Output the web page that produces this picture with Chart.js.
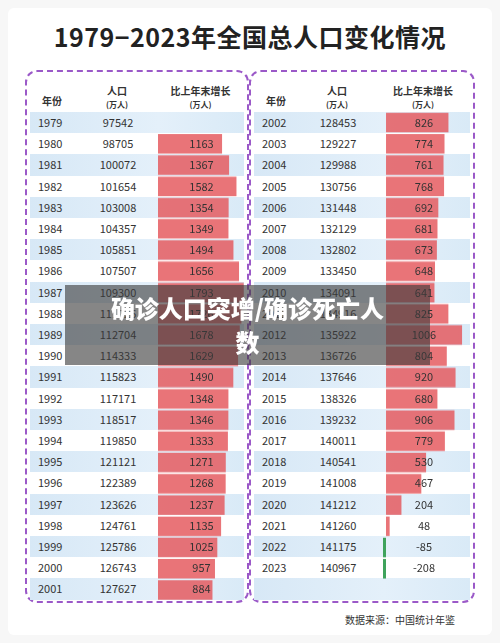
<!DOCTYPE html>
<html><head><meta charset="utf-8">
<script src="https://cdn.jsdelivr.net/npm/chart.js@4"></script>
<style>
body{margin:0;width:500px;height:643px;background:#f7f7f7;font-family:"Noto Sans CJK SC","Noto Sans",sans-serif;position:relative;overflow:hidden}
#frame{position:absolute;left:8px;top:8px;width:484px;height:627px;background:#fff;border-radius:6px}
h1{position:absolute;left:0;width:500px;top:18px;margin:0;text-align:center;font-size:25px;font-family:"Noto Sans CJK SC";font-weight:700;color:#222;letter-spacing:0.5px}
.panel{position:absolute;top:70px;height:533px;border:2px dashed #9b59c8;border-radius:12px;box-sizing:border-box}
.hdr{position:absolute;top:12px;font-size:10px;font-weight:700;color:#333;text-align:center;line-height:13px}
.hdr small{font-size:8px}
.row{position:absolute;height:21.2px;line-height:21.2px;font-size:11px;color:#333;z-index:1}
.row span{position:absolute}
.canv{position:absolute;pointer-events:none}
#banner{position:absolute;left:65px;top:285px;width:365px;height:80px;background:rgba(60,60,60,0.62);color:#fff;font-weight:900;font-size:24px;text-align:center;line-height:34px;padding-top:6px;box-sizing:border-box;z-index:10}
#src{position:absolute;left:345px;top:612px;font-size:10px;color:#333;z-index:10}
</style></head><body>
<div id="frame"></div>
<h1>1979−2023年全国总人口变化情况</h1>
<div id="root"></div>
<div id="banner">确诊人口突增/确诊死亡人<br>数</div>
<div id="src">数据来源：中国统计年鉴</div>
<script>
const yearsL=[1979,1980,1981,1982,1983,1984,1985,1986,1987,1988,1989,1990,1991,1992,1993,1994,1995,1996,1997,1998,1999,2000,2001];
const popL=[97542,98705,100072,101654,103008,104357,105851,107507,109300,111026,112704,114333,115823,117171,118517,119850,121121,122389,123626,124761,125786,126743,127627];
const growL=[null,1163,1367,1582,1354,1349,1494,1656,1793,1726,1678,1629,1490,1348,1346,1333,1271,1268,1237,1135,1025,957,884];
const yearsR=[2002,2003,2004,2005,2006,2007,2008,2009,2010,2011,2012,2013,2014,2015,2016,2017,2018,2019,2020,2021,2022,2023];
const popR=[128453,129227,129988,130756,131448,132129,132802,133450,134091,134916,135922,136726,137646,138326,139232,140011,140541,141008,141212,141260,141175,140967];
const growR=[826,774,761,768,692,681,673,648,641,825,1006,804,920,680,906,779,530,467,204,48,-85,-208];

const root=document.getElementById('root');
const RH=21.2, TOP=112;
function panel(px,pw,years,pop,grow,yx,popc,gx,gw,gmin,gmax,base){
  const p=document.createElement('div');p.className='panel';p.style.left=(px-3)+'px';p.style.width=(pw+6)+'px';root.appendChild(p);
  const h=(x,w,html,t)=>{const d=document.createElement('div');d.className='hdr';d.style.left=(x-px)+'px';d.style.width=w+'px';d.style.top=t;d.innerHTML=html;p.appendChild(d);};
  h(yx,30,'年份','22px');h(popc-30,60,'人口<br><small>(万人)</small>','12px');h(gx,gw,'比上年末增长<br><small>(万人)</small>','12px');
  for(let i=0;i<23;i++){
    const r=document.createElement('div');r.className='row';
    r.style.left=(px+2)+'px';r.style.width=(pw-4)+'px';r.style.top=(TOP+i*RH)+'px';
    r.style.background=i%2===0?'linear-gradient(90deg,#d7e8f6,#e4f0fa 60%,#d9eaf7)':'#fff';
    if(i<years.length){
      r.innerHTML=`<span style="left:${yx-px-2}px">${years[i]}</span><span style="left:${popc-px-32}px;width:60px;text-align:center">${pop[i]}</span>`;
      if(grow[i]!==null){
        const d=document.createElement('div');
        d.style.cssText=`position:absolute;z-index:5;font-size:11px;color:#333;line-height:${RH}px;height:${RH}px;top:${TOP+i*RH}px;left:${gx}px;width:${gw}px;text-align:center`;
        d.textContent=grow[i];document.body.appendChild(d);
      }
    }
    root.appendChild(r);
  }
  const c=document.createElement('div');c.className='canv';c.style.left=gx+'px';c.style.top=TOP+'px';c.style.width=gw+'px';c.style.height=(23*RH)+'px';c.style.zIndex=2;
  const cv=document.createElement('canvas');c.appendChild(cv);root.appendChild(c);
  const labels=years.map(String);while(labels.length<23)labels.push('');
  const data=grow.map(v=>v===null?null:(v<0?[0,v]:[base,v]));while(data.length<23)data.push(null);
  new Chart(cv,{type:'bar',data:{labels,datasets:[{data,
    backgroundColor:grow.map(v=>v<0?'#3fa35c':'rgba(228,86,90,0.82)'),
    barPercentage:0.92,categoryPercentage:1}]},
    options:{indexAxis:'y',responsive:true,maintainAspectRatio:false,animation:false,
      layout:{padding:0},plugins:{legend:{display:false},tooltip:{enabled:false}},
      scales:{x:{display:false,min:gmin,max:gmax},y:{display:false}}}});
}
panel(28,218,yearsL,popL,growL,38,118,158,87,-700,1830,-700);
panel(252,220,yearsR,popR,growR,262,338,383,82,-40,1045,0);
</script>
</body></html>
